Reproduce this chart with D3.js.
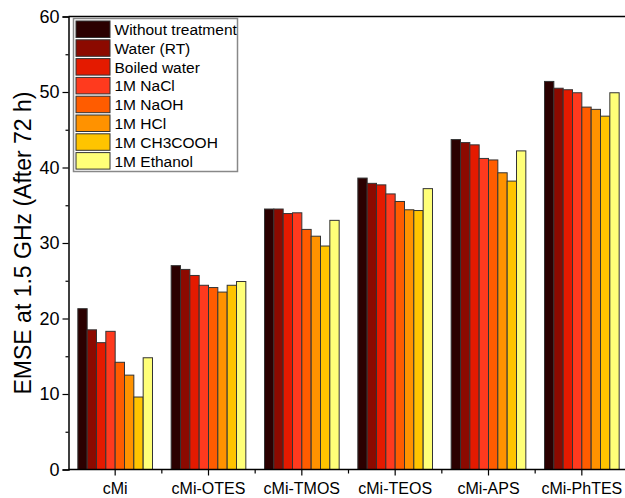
<!DOCTYPE html>
<html><head><meta charset="utf-8">
<script src="https://cdn.jsdelivr.net/npm/d3@7"></script>
<style>body{margin:0;background:#fff}svg{display:block}text{font-family:"Liberation Sans",Arial,sans-serif}</style>
</head><body>
<script>
const categories = ["cMi","cMi-OTES","cMi-TMOS","cMi-TEOS","cMi-APS","cMi-PhTES"];
const seriesNames = ["Without treatment","Water (RT)","Boiled water","1M NaCl","1M NaOH","1M HCl","1M CH3COOH","1M Ethanol"];
const colors = ["#2b0000","#8c0a00","#e41a00","#ff3a1e","#ff5c00","#ff9200","#ffc400","#ffff78"];
const withoutTreatment = [21.3, 27.0, 34.5, 38.6, 43.7, 51.4];
const waterRT          = [18.5, 26.5, 34.5, 37.9, 43.3, 50.5];
const boiledWater      = [16.8, 25.7, 33.9, 37.7, 43.0, 50.3];
const naCl             = [18.3, 24.4, 34.0, 36.5, 41.2, 49.9];
const naOH             = [14.2, 24.1, 31.8, 35.5, 41.0, 48.0];
const hCl              = [12.5, 23.5, 30.9, 34.4, 39.3, 47.7];
const ch3cooh          = [9.6, 24.4, 29.6, 34.3, 38.2, 46.8];
const ethanol          = [14.8, 24.9, 33.0, 37.2, 42.2, 49.9];
const seriesValues = [withoutTreatment, waterRT, boiledWater, naCl, naOH, hCl, ch3cooh, ethanol];
const yTicks = [0,10,20,30,40,50,60];

(function () {
const W = 625, H = 498;
const mLeft = 68.5, mRight = 628.5, mTop = 16.5, mBottom = 469.5;
const svg = d3.select("body").append("svg").attr("width", W).attr("height", H);

const x0 = d3.scaleBand().domain(categories).range([mLeft, mRight]).paddingInner(0.2).paddingOuter(0.1);
const x1 = d3.scaleBand().domain(seriesNames).range([0, x0.bandwidth()]);
const y = d3.scaleLinear().domain([0, 60]).range([mBottom, mTop]);

// bars
const g = svg.append("g");
categories.forEach((c, ci) => {
  seriesNames.forEach((s, si) => {
    const v = seriesValues[si][ci];
    g.append("rect")
      .attr("x", x0(c) + x1(s))
      .attr("y", y(v))
      .attr("width", x1.bandwidth())
      .attr("height", y(0) - y(v))
      .attr("fill", colors[si])
      .attr("stroke", "#333")
      .attr("stroke-width", 1);
  });
});

// y axis
const yAxis = d3.axisLeft(y).tickValues(yTicks).tickSize(6).tickPadding(3).tickFormat(d3.format("d"));
const ya = svg.append("g").attr("transform", `translate(${mLeft},0)`).call(yAxis);
ya.select(".domain").attr("stroke", "#000").attr("stroke-width", 1.5);
ya.selectAll(".tick line").attr("stroke", "#000").attr("stroke-width", 1.2);
ya.selectAll("text").attr("font-size", 18).attr("fill", "#000");
const ym = d3.axisLeft(y).tickValues([5,15,25,35,45,55]).tickSize(3).tickFormat("");
const yma = svg.append("g").attr("transform", `translate(${mLeft},0)`).call(ym);
yma.select(".domain").remove();
yma.selectAll(".tick line").attr("stroke", "#000").attr("stroke-width", 1.2);

// x axis
const xAxis = d3.axisBottom(x0).tickSize(6).tickPadding(7);
const xa = svg.append("g").attr("transform", `translate(0,${mBottom})`).call(xAxis);
xa.select(".domain").attr("d", `M${mLeft},0H${mRight}`).attr("stroke", "#000").attr("stroke-width", 1.5);
xa.selectAll(".tick line").attr("stroke", "#000").attr("stroke-width", 1.2);
xa.selectAll("text").attr("font-size", 16).attr("fill", "#000");
const step = x0.step();
const minorX = categories.slice(0, -1).map(c => x0(c) + x0.bandwidth() + step * x0.paddingInner() / 2);
svg.append("g").selectAll("line").data(minorX).join("line")
  .attr("x1", d => d).attr("x2", d => d).attr("y1", mBottom).attr("y2", mBottom + 4)
  .attr("stroke", "#000").attr("stroke-width", 1.2);

// top border
svg.append("line").attr("x1", mLeft).attr("x2", mRight).attr("y1", mTop).attr("y2", mTop)
  .attr("stroke", "#000").attr("stroke-width", 1.5);

// y title
svg.append("text")
  .attr("transform", `translate(31,${(mTop + mBottom) / 2}) rotate(-90)`)
  .attr("text-anchor", "middle")
  .attr("font-size", 23)
  .attr("fill", "#000")
  .text("EMSE at 1.5 GHz (After 72 h)");

// legend
const lg = svg.append("g");
const lx = 73.5, ly = 18.5, rowH = 18.8;
lg.append("rect").attr("x", lx).attr("y", ly).attr("width", 164).attr("height", 153)
  .attr("fill", "#fff").attr("stroke", "#888").attr("stroke-width", 1.5);
seriesNames.forEach((s, i) => {
  lg.append("rect").attr("x", lx + 2.5).attr("y", ly + 2.5 + i * rowH)
    .attr("width", 34).attr("height", 16.5)
    .attr("fill", colors[i]).attr("stroke", "#333").attr("stroke-width", 1);
  lg.append("text").attr("x", lx + 41).attr("y", ly + 2.5 + i * rowH + 14)
    .attr("font-size", 15.5).attr("fill", "#000").text(s);
});
})();
</script>
</body></html>
